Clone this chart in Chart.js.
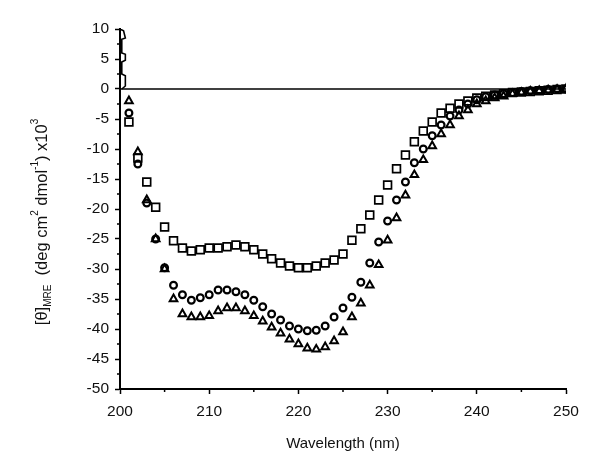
<!DOCTYPE html>
<html>
<head>
<meta charset="utf-8">
<script src="https://cdn.jsdelivr.net/npm/chart.js@4/dist/chart.umd.min.js"></script>
<style>
  html, body { margin: 0; padding: 0; background: #fff; }
  #wrap { width: 600px; height: 471px; position: relative; }
</style>
</head>
<body>
<div id="wrap"><canvas id="cdChart"></canvas></div>
<script>
// ========================================
// DATA
// ========================================
const wavelengths = [200, 201, 202, 203, 204, 205, 206, 207, 208, 209,
    210, 211, 212, 213, 214, 215, 216, 217, 218, 219,
    220, 221, 222, 223, 224, 225, 226, 227, 228, 229,
    230, 231, 232, 233, 234, 235, 236, 237, 238, 239,
    240, 241, 242, 243, 244, 245, 246, 247, 248, 249, 250];

const squareSeries = [null, -5.5, -11.5, -15.5, -19.7, -23, -25.3, -26.5, -27, -26.8,
    -26.5, -26.5, -26.3, -26, -26.3, -26.8, -27.5, -28.3, -29, -29.5,
    -29.8, -29.8, -29.5, -29, -28.5, -27.5, -25.2, -23.3, -21, -18.5,
    -16, -13.3, -11, -8.8, -7, -5.5, -4, -3.2, -2.5, -2,
    -1.5, -1.2, -1, -0.8, -0.6, -0.5, -0.4, -0.3, -0.2, -0.1, 0];

const circleSeries = [null, -4, -12.5, -19, -25, -29.8, -32.7, -34.3, -35.2, -34.8,
    -34.3, -33.5, -33.5, -33.8, -34.3, -35.2, -36.3, -37.5, -38.5, -39.5,
    -40, -40.3, -40.2, -39.5, -38, -36.5, -34.7, -32.2, -29, -25.5,
    -22, -18.5, -15.5, -12.3, -10, -7.8, -6, -4.5, -3.5, -2.5,
    -1.8, -1.3, -1, -0.8, -0.6, -0.4, -0.3, -0.2, -0.1, 0, 0];

const triangleSeries = [null, -2, -10.5, -18.5, -25, -30, -35, -37.5, -38, -38,
    -37.8, -37, -36.5, -36.5, -37, -37.8, -38.7, -39.7, -40.7, -41.7,
    -42.5, -43.2, -43.4, -43, -42, -40.5, -38, -35.7, -32.7, -29.3,
    -25.2, -21.5, -17.7, -14.3, -11.8, -9.5, -7.5, -6, -4.5, -3.5,
    -2.5, -2, -1.5, -1.2, -0.8, -0.6, -0.4, -0.3, -0.2, -0.1, 0];

// noisy trace at the very start of the scan (200-201 nm)
const traceX = [200, 200.4, 200.6, 200.2, 200.2, 200.6, 200.6, 200.2, 200.2, 200.6, 200.6, 200.2];
const traceY = [10, 9.7, 8.5, 8.3, 6, 5.8, 4.8, 4.5, 2.5, 2.2, 0.5, 0];

const xTicks = [200, 210, 220, 230, 240, 250];
const yTicks = [10, 5, 0, -5, -10, -15, -20, -25, -30, -35, -40, -45, -50];

const toPoints = (xs, ys) => xs
    .map((x, i) => ({ x: x, y: ys[i] }))
    .filter(p => p.y !== null);

// ========================================
// PLUGIN - minor ticks, zero line, axis titles
// ========================================
const FONT = '"Liberation Sans", Arial, Helvetica, sans-serif';

const decorPlugin = {
    id: 'decor',
    beforeDatasetsDraw(chart) {
        const { ctx, chartArea, scales } = chart;
        const y0 = scales.y.getPixelForValue(0);
        ctx.save();
        ctx.strokeStyle = '#000';
        ctx.lineWidth = 1.6;
        ctx.beginPath();
        ctx.moveTo(chartArea.left, y0);
        ctx.lineTo(chartArea.right, y0);
        ctx.stroke();
        ctx.restore();
    },
    afterDraw(chart) {
        const { ctx, chartArea, scales } = chart;
        ctx.save();
        ctx.strokeStyle = '#000';
        ctx.lineWidth = 1.5;

        // minor ticks on y (every 2.5)
        for (let v = 7.5; v > -50; v -= 5) {
            const py = scales.y.getPixelForValue(v);
            ctx.beginPath();
            ctx.moveTo(chartArea.left - 3, py);
            ctx.lineTo(chartArea.left, py);
            ctx.stroke();
        }
        // minor ticks on x (every 5)
        for (let v = 205; v < 250; v += 10) {
            const px = scales.x.getPixelForValue(v);
            ctx.beginPath();
            ctx.moveTo(px, chartArea.bottom);
            ctx.lineTo(px, chartArea.bottom + 3);
            ctx.stroke();
        }

        // x title
        ctx.fillStyle = '#111';
        ctx.font = '15px ' + FONT;
        ctx.textAlign = 'center';
        ctx.textBaseline = 'middle';
        ctx.fillText('Wavelength (nm)', (chartArea.left + chartArea.right) / 2, 444);

        // y title, rotated, with sub/superscripts
        const parts = [
            { t: '[\u03B8]', size: 16.5, dy: 0 },
            { t: 'MRE', size: 10, dy: 6 },
            { t: '  (deg cm', size: 16.5, dy: 0 },
            { t: '2', size: 10, dy: -7 },
            { t: ' dmol', size: 16.5, dy: 0 },
            { t: '-1', size: 10, dy: -7 },
            { t: ') x10', size: 16.5, dy: 0 },
            { t: '3', size: 10, dy: -7 }
        ];
        let total = 0;
        parts.forEach(p => {
            ctx.font = p.size + 'px ' + FONT;
            p.w = ctx.measureText(p.t).width;
            total += p.w;
        });
        ctx.translate(42, 222);
        ctx.rotate(-Math.PI / 2);
        ctx.textAlign = 'left';
        let cx = -total / 2;
        parts.forEach(p => {
            ctx.font = p.size + 'px ' + FONT;
            ctx.fillText(p.t, cx, p.dy);
            cx += p.w;
        });
        ctx.restore();
    }
};

// ========================================
// CHART
// ========================================
const ctx = document.getElementById('cdChart').getContext('2d');

const markerBase = {
    showLine: false,
    backgroundColor: 'rgba(0,0,0,0)',
    borderColor: '#000',
    pointBackgroundColor: 'rgba(0,0,0,0)',
    pointBorderColor: '#000'
};

new Chart(ctx, {
    type: 'scatter',
    data: {
        datasets: [
            {
                label: 'trace',
                data: toPoints(traceX, traceY),
                showLine: true,
                borderColor: '#000',
                borderWidth: 1.6,
                pointRadius: 0,
                tension: 0
            },
            Object.assign({}, markerBase, {
                label: 'squares',
                data: toPoints(wavelengths, squareSeries),
                pointStyle: 'rect',
                pointRadius: 5.5,
                pointBorderWidth: 1.7
            }),
            Object.assign({}, markerBase, {
                label: 'circles',
                data: toPoints(wavelengths, circleSeries),
                pointStyle: 'circle',
                pointRadius: 3.4,
                pointBorderWidth: 2.2
            }),
            Object.assign({}, markerBase, {
                label: 'triangles',
                data: toPoints(wavelengths, triangleSeries),
                pointStyle: 'triangle',
                pointRadius: 4.4,
                pointBorderWidth: 2
            })
        ]
    },
    options: {
        responsive: true,
        maintainAspectRatio: false,
        animation: false,
        events: [],
        layout: { padding: { top: 29, right: 34, left: 0, bottom: 0 } },
        plugins: {
            legend: { display: false },
            tooltip: { enabled: false }
        },
        scales: {
            x: {
                type: 'linear',
                min: 200,
                max: 250,
                afterFit: (scale) => { scale.height = 82; },
                afterBuildTicks: (scale) => { scale.ticks = xTicks.map(v => ({ value: v })); },
                border: { display: true, color: '#000', width: 2 },
                grid: { drawOnChartArea: false, drawTicks: true, tickLength: 5, tickColor: '#000', tickWidth: 1.5 },
                ticks: { color: '#111', padding: 8, maxRotation: 0, font: { family: FONT, size: 15.5 } }
            },
            y: {
                type: 'linear',
                min: -50,
                max: 10,
                afterFit: (scale) => { scale.width = 120; },
                afterBuildTicks: (scale) => { scale.ticks = yTicks.map(v => ({ value: v })); },
                border: { display: true, color: '#000', width: 2 },
                grid: { drawOnChartArea: false, drawTicks: true, tickLength: 5, tickColor: '#000', tickWidth: 1.5 },
                ticks: { color: '#111', padding: 6, font: { family: FONT, size: 15.5 } }
            }
        }
    },
    plugins: [decorPlugin]
});
</script>
</body>
</html>
